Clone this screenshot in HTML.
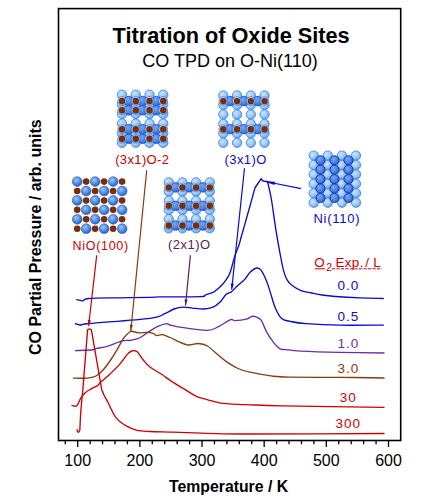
<!DOCTYPE html>
<html><head><meta charset="utf-8"><style>
html,body{margin:0;padding:0;background:#fff;}
svg{display:block;font-family:"Liberation Sans",sans-serif;}
</style></head><body>
<svg width="432" height="504" viewBox="0 0 432 504">
<defs>
<radialGradient id="gl" cx="0.38" cy="0.35" r="0.7"><stop offset="0" stop-color="#c8e6ff"/><stop offset="0.55" stop-color="#9ccaf8"/><stop offset="1" stop-color="#5c9cec"/></radialGradient>
<radialGradient id="gd" cx="0.38" cy="0.35" r="0.7"><stop offset="0" stop-color="#78aaf2"/><stop offset="0.55" stop-color="#4a86e4"/><stop offset="1" stop-color="#2a5ccc"/></radialGradient>
<radialGradient id="gn" cx="0.4" cy="0.35" r="0.65"><stop offset="0" stop-color="#9cc8f8"/><stop offset="0.6" stop-color="#4c8ce4"/><stop offset="1" stop-color="#2a5cc8"/></radialGradient>
</defs>
<rect x="58.5" y="8.6" width="342.2" height="431.9" fill="none" stroke="#000" stroke-width="1.6"/>
<line x1="65.27" y1="441" x2="65.27" y2="444.3" stroke="#000" stroke-width="1.3"/>
<line x1="77.70" y1="441" x2="77.70" y2="447.0" stroke="#000" stroke-width="1.3"/>
<line x1="90.13" y1="441" x2="90.13" y2="444.3" stroke="#000" stroke-width="1.3"/>
<line x1="102.56" y1="441" x2="102.56" y2="444.3" stroke="#000" stroke-width="1.3"/>
<line x1="115.00" y1="441" x2="115.00" y2="444.3" stroke="#000" stroke-width="1.3"/>
<line x1="127.43" y1="441" x2="127.43" y2="444.3" stroke="#000" stroke-width="1.3"/>
<line x1="139.86" y1="441" x2="139.86" y2="447.0" stroke="#000" stroke-width="1.3"/>
<line x1="152.29" y1="441" x2="152.29" y2="444.3" stroke="#000" stroke-width="1.3"/>
<line x1="164.72" y1="441" x2="164.72" y2="444.3" stroke="#000" stroke-width="1.3"/>
<line x1="177.16" y1="441" x2="177.16" y2="444.3" stroke="#000" stroke-width="1.3"/>
<line x1="189.59" y1="441" x2="189.59" y2="444.3" stroke="#000" stroke-width="1.3"/>
<line x1="202.02" y1="441" x2="202.02" y2="447.0" stroke="#000" stroke-width="1.3"/>
<line x1="214.45" y1="441" x2="214.45" y2="444.3" stroke="#000" stroke-width="1.3"/>
<line x1="226.88" y1="441" x2="226.88" y2="444.3" stroke="#000" stroke-width="1.3"/>
<line x1="239.32" y1="441" x2="239.32" y2="444.3" stroke="#000" stroke-width="1.3"/>
<line x1="251.75" y1="441" x2="251.75" y2="444.3" stroke="#000" stroke-width="1.3"/>
<line x1="264.18" y1="441" x2="264.18" y2="447.0" stroke="#000" stroke-width="1.3"/>
<line x1="276.61" y1="441" x2="276.61" y2="444.3" stroke="#000" stroke-width="1.3"/>
<line x1="289.04" y1="441" x2="289.04" y2="444.3" stroke="#000" stroke-width="1.3"/>
<line x1="301.48" y1="441" x2="301.48" y2="444.3" stroke="#000" stroke-width="1.3"/>
<line x1="313.91" y1="441" x2="313.91" y2="444.3" stroke="#000" stroke-width="1.3"/>
<line x1="326.34" y1="441" x2="326.34" y2="447.0" stroke="#000" stroke-width="1.3"/>
<line x1="338.77" y1="441" x2="338.77" y2="444.3" stroke="#000" stroke-width="1.3"/>
<line x1="351.20" y1="441" x2="351.20" y2="444.3" stroke="#000" stroke-width="1.3"/>
<line x1="363.64" y1="441" x2="363.64" y2="444.3" stroke="#000" stroke-width="1.3"/>
<line x1="376.07" y1="441" x2="376.07" y2="444.3" stroke="#000" stroke-width="1.3"/>
<line x1="388.50" y1="441" x2="388.50" y2="447.0" stroke="#000" stroke-width="1.3"/>
<text x="77.7" y="465.9" text-anchor="middle" font-size="16" fill="#000">100</text>
<text x="139.9" y="465.9" text-anchor="middle" font-size="16" fill="#000">200</text>
<text x="202.0" y="465.9" text-anchor="middle" font-size="16" fill="#000">300</text>
<text x="264.2" y="465.9" text-anchor="middle" font-size="16" fill="#000">400</text>
<text x="326.3" y="465.9" text-anchor="middle" font-size="16" fill="#000">500</text>
<text x="388.5" y="465.9" text-anchor="middle" font-size="16" fill="#000">600</text>
<path d="M76.2,299.7 C77.0,299.8 79.7,300.3 80.8,300.5 C81.9,300.7 81.6,301.1 83.0,300.8 C84.4,300.5 82.8,299.0 89.0,298.5 C95.2,298.0 109.8,298.0 120.0,297.8 C130.2,297.6 143.3,297.5 150.0,297.4 C156.7,297.2 151.7,297.0 160.0,296.9 C168.3,296.8 192.4,297.0 200.0,296.7 C207.6,296.4 203.4,295.5 205.6,294.8 C207.8,294.1 211.2,293.2 213.0,292.4 C214.8,291.6 215.1,291.0 216.3,290.0 C217.5,289.0 219.0,287.9 220.4,286.5 C221.8,285.1 223.4,283.6 225.0,281.4 C226.6,279.1 228.3,277.2 229.9,273.0 C231.5,268.8 233.2,261.0 234.7,256.4 C236.2,251.8 237.8,248.5 238.9,245.3 C240.0,242.1 240.4,239.7 241.2,237.0 C242.0,234.3 242.2,233.5 243.5,229.0 C244.8,224.5 246.8,217.0 248.8,210.2 C250.7,203.3 254.0,191.6 255.0,187.9 C256.0,186.3 260.2,180.2 261.2,178.6 C261.5,179.0 262.0,180.5 263.0,181.0 C264.0,181.5 266.8,181.4 267.5,181.5 C268.2,184.6 270.1,191.9 271.5,200.0 C272.9,208.1 274.3,220.2 275.9,229.8 C277.4,239.4 279.5,250.6 280.8,257.5 C282.1,264.4 282.8,267.8 283.8,271.4 C284.8,275.0 285.5,277.1 286.8,279.4 C288.1,281.7 289.3,283.4 291.8,285.3 C294.3,287.2 298.4,289.6 301.7,290.9 C305.0,292.2 308.2,292.3 311.6,293.0 C315.0,293.7 318.1,294.4 322.0,295.0 C325.9,295.6 328.8,296.0 335.2,296.5 C341.6,297.0 352.3,297.6 360.4,297.9 C368.5,298.2 379.9,298.4 383.8,298.5" fill="none" stroke="#0a0ad2" stroke-width="1.35" stroke-linejoin="round"/>
<path d="M75.0,323.5 C76.0,323.8 78.4,325.0 80.8,325.0 C83.2,325.0 77.7,324.6 89.2,323.5 C100.7,322.4 137.4,319.9 150.0,318.3 C162.6,316.7 160.8,315.2 164.8,313.7 C168.8,312.1 171.0,310.1 174.1,309.0 C177.2,307.9 180.2,307.3 183.3,307.2 C186.4,307.1 189.2,307.8 192.6,308.1 C196.0,308.4 200.3,309.1 203.7,309.0 C207.1,308.9 210.2,308.4 213.0,307.2 C215.8,306.0 218.2,303.8 220.4,301.7 C222.6,299.6 224.1,296.1 226.0,294.4 C227.9,292.7 229.8,293.1 231.6,291.7 C233.4,290.3 234.9,288.1 237.1,286.1 C239.2,284.1 242.3,281.9 244.5,279.6 C246.7,277.3 248.1,274.1 250.1,272.2 C252.1,270.3 254.8,268.3 256.6,268.0 C258.5,267.7 259.5,268.1 261.2,270.4 C262.9,272.6 265.2,277.8 266.7,281.5 C268.2,285.2 269.0,288.3 270.4,292.6 C271.8,296.9 273.2,303.1 275.1,307.4 C277.0,311.7 279.1,316.2 281.6,318.5 C284.1,320.8 285.8,320.4 289.9,321.3 C294.0,322.2 297.6,323.1 306.0,323.7 C314.4,324.3 327.0,325.0 340.0,325.2 C353.0,325.4 376.5,325.1 383.8,325.1" fill="none" stroke="#0a0ad2" stroke-width="1.35" stroke-linejoin="round"/>
<path d="M75.0,350.6 C77.7,350.5 87.8,350.3 91.2,350.0 C94.8,349.7 93.2,349.2 96.0,348.6 C98.8,348.0 103.5,347.5 107.9,346.2 C112.3,344.9 118.5,341.9 122.2,340.9 C125.9,339.9 127.2,340.8 130.0,340.3 C132.8,339.8 136.2,339.4 139.3,338.0 C142.4,336.6 145.4,333.8 148.5,331.9 C151.6,330.0 154.8,327.8 157.8,326.4 C160.8,325.0 164.6,323.8 166.6,323.6 C168.6,323.4 167.5,324.4 170.0,325.0 C172.5,325.6 175.3,326.5 181.5,327.4 C187.7,328.3 201.2,330.4 207.4,330.3 C213.6,330.2 214.6,328.4 218.5,326.6 C222.4,324.8 227.8,320.7 230.6,319.7 C233.4,318.7 232.6,320.7 235.2,320.6 C237.8,320.5 243.5,319.8 246.3,319.1 C249.1,318.4 250.4,316.8 251.9,316.4 C253.4,316.0 254.1,316.1 255.6,316.7 C257.1,317.3 259.2,317.5 261.1,320.1 C263.0,322.7 264.5,328.2 266.7,332.1 C268.9,336.0 271.9,340.4 274.1,343.2 C276.3,346.0 278.0,347.7 280.0,348.8 C282.0,349.9 282.6,349.2 286.0,349.6 C289.4,350.0 291.7,350.6 300.7,351.1 C309.7,351.6 326.0,352.1 340.0,352.4 C354.0,352.7 377.1,352.9 384.5,353.0" fill="none" stroke="#6a2ea6" stroke-width="1.35" stroke-linejoin="round"/>
<path d="M72.9,378.1 C75.2,378.1 83.2,378.5 87.0,378.1 C90.8,377.8 93.3,377.4 96.0,376.0 C98.7,374.6 100.7,372.6 103.1,370.0 C105.5,367.4 107.9,364.0 110.3,360.5 C112.7,357.0 115.4,352.6 117.4,349.2 C119.4,345.8 120.6,342.8 122.2,340.3 C123.8,337.8 125.5,335.9 127.0,334.3 C128.5,332.8 130.4,331.6 131.1,331.0 C132.5,331.3 136.7,332.7 139.3,332.9 C141.9,333.1 144.4,332.3 146.7,332.4 C149.0,332.5 151.4,332.8 153.1,333.3 C154.8,333.8 155.3,335.4 156.9,335.6 C158.5,335.8 160.2,334.4 162.4,334.7 C164.6,335.0 165.9,335.8 170.0,337.5 C174.1,339.2 182.3,343.8 187.0,344.8 C191.7,345.8 194.7,343.3 198.1,343.5 C201.5,343.7 204.0,344.0 207.4,346.0 C210.8,348.0 215.3,352.7 218.5,355.3 C221.7,357.9 223.2,359.4 226.4,361.6 C229.7,363.8 234.1,366.7 238.0,368.5 C241.9,370.3 244.5,371.0 250.0,372.2 C255.5,373.4 264.6,375.1 271.1,375.9 C277.6,376.7 277.4,376.9 288.9,377.2 C300.4,377.4 324.1,377.3 340.0,377.4 C355.9,377.5 377.1,377.9 384.5,378.0" fill="none" stroke="#8a3a0c" stroke-width="1.35" stroke-linejoin="round"/>
<path d="M71.5,405.4 C72.4,405.5 75.2,407.0 76.7,405.8 C78.2,404.6 79.4,400.2 80.8,398.1 C82.2,396.0 83.3,394.5 85.0,392.9 C86.7,391.3 89.2,390.0 91.2,388.8 C93.3,387.5 95.9,386.7 97.5,385.6 C99.1,384.5 99.1,383.6 100.8,382.0 C102.5,380.4 104.7,379.0 107.9,376.0 C111.1,373.0 116.6,367.7 119.8,364.1 C123.0,360.5 125.0,356.8 127.0,354.6 C129.0,352.4 130.2,351.6 131.7,351.0 C133.2,350.4 134.9,350.7 136.0,351.0 C137.1,351.3 136.9,351.2 138.1,352.7 C139.3,354.2 141.3,357.6 143.3,360.0 C145.3,362.4 146.9,364.6 150.0,367.0 C153.1,369.4 157.8,371.7 161.6,374.3 C165.4,376.9 169.2,379.9 173.1,382.4 C176.9,384.9 180.8,387.1 184.7,389.4 C188.6,391.7 192.4,394.6 196.3,396.3 C200.2,398.0 204.1,398.7 207.9,399.8 C211.8,400.9 214.4,402.0 219.4,402.8 C224.4,403.6 232.9,404.1 238.0,404.4 C243.1,404.7 242.6,404.6 250.0,404.8 C257.4,405.0 260.0,405.4 282.4,405.8 C304.8,406.2 367.5,407.1 384.5,407.4" fill="none" stroke="#d00000" stroke-width="1.35" stroke-linejoin="round"/>
<path d="M76.7,429.4 C77.0,429.9 78.0,432.0 78.3,432.5 C78.5,432.1 79.5,430.8 79.8,430.4 C80.0,427.3 80.3,418.4 80.8,411.7 C81.3,405.0 82.5,393.6 82.8,390.0 C83.6,380.0 86.8,339.8 87.6,329.8 C87.9,329.6 88.9,328.8 89.5,328.8 C90.1,328.8 91.1,329.6 91.4,329.8 C93.1,339.8 100.1,380.0 101.8,390.0 C102.2,390.8 103.0,392.9 104.0,395.0 C105.0,397.1 105.9,398.5 107.9,402.3 C109.9,406.1 113.1,413.9 116.2,417.9 C119.4,421.9 123.2,424.2 126.7,426.2 C130.2,428.3 133.2,429.5 137.1,430.4 C141.0,431.3 144.0,431.2 150.0,431.5 C156.0,431.8 163.4,431.9 173.1,432.2 C182.8,432.5 195.1,433.0 207.9,433.3 C220.7,433.6 220.6,434.0 250.0,434.0 C279.4,434.0 362.1,433.6 384.5,433.5" fill="none" stroke="#d00000" stroke-width="1.35" stroke-linejoin="round"/>
<line x1="96.7" y1="255.4" x2="88.6" y2="326" stroke="#d00000" stroke-width="1.2"/>
<polygon points="88.60,326.00 87.69,319.86 90.87,320.22" fill="#d00000"/>
<line x1="146.7" y1="170.2" x2="130.8" y2="330.8" stroke="#8a3a0c" stroke-width="1.2"/>
<polygon points="130.80,330.80 129.80,324.67 132.98,324.99" fill="#8a3a0c"/>
<line x1="190.4" y1="255.2" x2="185.5" y2="305.5" stroke="#5a1e55" stroke-width="1.2"/>
<polygon points="185.50,305.50 184.49,299.37 187.67,299.68" fill="#5a1e55"/>
<line x1="244.5" y1="168.3" x2="231.7" y2="289.6" stroke="#0a0ad2" stroke-width="1.2"/>
<polygon points="231.70,289.60 230.74,283.47 233.92,283.80" fill="#0a0ad2"/>
<line x1="301" y1="188.7" x2="263" y2="181" stroke="#0a0ad2" stroke-width="1.2"/>
<polygon points="263.00,181.00 275.08,181.82 274.44,184.95" fill="#0a0ad2"/>
<circle cx="77.20" cy="181.60" r="4.9" fill="url(#gn)" stroke="#2a5ac8" stroke-width="0.6"/>
<circle cx="86.18" cy="181.60" r="3.3" fill="#7d2d06"/>
<circle cx="95.16" cy="181.60" r="4.9" fill="url(#gn)" stroke="#2a5ac8" stroke-width="0.6"/>
<circle cx="104.14" cy="181.60" r="3.3" fill="#7d2d06"/>
<circle cx="113.12" cy="181.60" r="4.9" fill="url(#gn)" stroke="#2a5ac8" stroke-width="0.6"/>
<circle cx="122.10" cy="181.60" r="3.3" fill="#7d2d06"/>
<circle cx="77.20" cy="191.02" r="3.3" fill="#7d2d06"/>
<circle cx="86.18" cy="191.02" r="4.9" fill="url(#gn)" stroke="#2a5ac8" stroke-width="0.6"/>
<circle cx="95.16" cy="191.02" r="3.3" fill="#7d2d06"/>
<circle cx="104.14" cy="191.02" r="4.9" fill="url(#gn)" stroke="#2a5ac8" stroke-width="0.6"/>
<circle cx="113.12" cy="191.02" r="3.3" fill="#7d2d06"/>
<circle cx="122.10" cy="191.02" r="4.9" fill="url(#gn)" stroke="#2a5ac8" stroke-width="0.6"/>
<circle cx="77.20" cy="200.44" r="4.9" fill="url(#gn)" stroke="#2a5ac8" stroke-width="0.6"/>
<circle cx="86.18" cy="200.44" r="3.3" fill="#7d2d06"/>
<circle cx="95.16" cy="200.44" r="4.9" fill="url(#gn)" stroke="#2a5ac8" stroke-width="0.6"/>
<circle cx="104.14" cy="200.44" r="3.3" fill="#7d2d06"/>
<circle cx="113.12" cy="200.44" r="4.9" fill="url(#gn)" stroke="#2a5ac8" stroke-width="0.6"/>
<circle cx="122.10" cy="200.44" r="3.3" fill="#7d2d06"/>
<circle cx="77.20" cy="209.86" r="3.3" fill="#7d2d06"/>
<circle cx="86.18" cy="209.86" r="4.9" fill="url(#gn)" stroke="#2a5ac8" stroke-width="0.6"/>
<circle cx="95.16" cy="209.86" r="3.3" fill="#7d2d06"/>
<circle cx="104.14" cy="209.86" r="4.9" fill="url(#gn)" stroke="#2a5ac8" stroke-width="0.6"/>
<circle cx="113.12" cy="209.86" r="3.3" fill="#7d2d06"/>
<circle cx="122.10" cy="209.86" r="4.9" fill="url(#gn)" stroke="#2a5ac8" stroke-width="0.6"/>
<circle cx="77.20" cy="219.28" r="4.9" fill="url(#gn)" stroke="#2a5ac8" stroke-width="0.6"/>
<circle cx="86.18" cy="219.28" r="3.3" fill="#7d2d06"/>
<circle cx="95.16" cy="219.28" r="4.9" fill="url(#gn)" stroke="#2a5ac8" stroke-width="0.6"/>
<circle cx="104.14" cy="219.28" r="3.3" fill="#7d2d06"/>
<circle cx="113.12" cy="219.28" r="4.9" fill="url(#gn)" stroke="#2a5ac8" stroke-width="0.6"/>
<circle cx="122.10" cy="219.28" r="3.3" fill="#7d2d06"/>
<circle cx="77.20" cy="228.70" r="3.3" fill="#7d2d06"/>
<circle cx="86.18" cy="228.70" r="4.9" fill="url(#gn)" stroke="#2a5ac8" stroke-width="0.6"/>
<circle cx="95.16" cy="228.70" r="3.3" fill="#7d2d06"/>
<circle cx="104.14" cy="228.70" r="4.9" fill="url(#gn)" stroke="#2a5ac8" stroke-width="0.6"/>
<circle cx="113.12" cy="228.70" r="3.3" fill="#7d2d06"/>
<circle cx="122.10" cy="228.70" r="4.9" fill="url(#gn)" stroke="#2a5ac8" stroke-width="0.6"/>
<circle cx="122.00" cy="94.70" r="4.7" fill="url(#gl)" stroke="#3f80e4" stroke-width="0.8"/>
<circle cx="122.00" cy="104.32" r="4.7" fill="url(#gl)" stroke="#3f80e4" stroke-width="0.8"/>
<circle cx="122.00" cy="113.94" r="4.7" fill="url(#gl)" stroke="#3f80e4" stroke-width="0.8"/>
<circle cx="122.00" cy="123.56" r="4.7" fill="url(#gl)" stroke="#3f80e4" stroke-width="0.8"/>
<circle cx="122.00" cy="133.18" r="4.7" fill="url(#gl)" stroke="#3f80e4" stroke-width="0.8"/>
<circle cx="122.00" cy="142.80" r="4.7" fill="url(#gl)" stroke="#3f80e4" stroke-width="0.8"/>
<circle cx="135.75" cy="94.70" r="4.7" fill="url(#gl)" stroke="#3f80e4" stroke-width="0.8"/>
<circle cx="135.75" cy="104.32" r="4.7" fill="url(#gl)" stroke="#3f80e4" stroke-width="0.8"/>
<circle cx="135.75" cy="113.94" r="4.7" fill="url(#gl)" stroke="#3f80e4" stroke-width="0.8"/>
<circle cx="135.75" cy="123.56" r="4.7" fill="url(#gl)" stroke="#3f80e4" stroke-width="0.8"/>
<circle cx="135.75" cy="133.18" r="4.7" fill="url(#gl)" stroke="#3f80e4" stroke-width="0.8"/>
<circle cx="135.75" cy="142.80" r="4.7" fill="url(#gl)" stroke="#3f80e4" stroke-width="0.8"/>
<circle cx="149.50" cy="94.70" r="4.7" fill="url(#gl)" stroke="#3f80e4" stroke-width="0.8"/>
<circle cx="149.50" cy="104.32" r="4.7" fill="url(#gl)" stroke="#3f80e4" stroke-width="0.8"/>
<circle cx="149.50" cy="113.94" r="4.7" fill="url(#gl)" stroke="#3f80e4" stroke-width="0.8"/>
<circle cx="149.50" cy="123.56" r="4.7" fill="url(#gl)" stroke="#3f80e4" stroke-width="0.8"/>
<circle cx="149.50" cy="133.18" r="4.7" fill="url(#gl)" stroke="#3f80e4" stroke-width="0.8"/>
<circle cx="149.50" cy="142.80" r="4.7" fill="url(#gl)" stroke="#3f80e4" stroke-width="0.8"/>
<circle cx="163.25" cy="94.70" r="4.7" fill="url(#gl)" stroke="#3f80e4" stroke-width="0.8"/>
<circle cx="163.25" cy="104.32" r="4.7" fill="url(#gl)" stroke="#3f80e4" stroke-width="0.8"/>
<circle cx="163.25" cy="113.94" r="4.7" fill="url(#gl)" stroke="#3f80e4" stroke-width="0.8"/>
<circle cx="163.25" cy="123.56" r="4.7" fill="url(#gl)" stroke="#3f80e4" stroke-width="0.8"/>
<circle cx="163.25" cy="133.18" r="4.7" fill="url(#gl)" stroke="#3f80e4" stroke-width="0.8"/>
<circle cx="163.25" cy="142.80" r="4.7" fill="url(#gl)" stroke="#3f80e4" stroke-width="0.8"/>
<circle cx="128.88" cy="101.00" r="4.8" fill="url(#gd)" stroke="#2a4cc0" stroke-width="0.8"/>
<circle cx="142.62" cy="101.00" r="4.8" fill="url(#gd)" stroke="#2a4cc0" stroke-width="0.8"/>
<circle cx="156.38" cy="101.00" r="4.8" fill="url(#gd)" stroke="#2a4cc0" stroke-width="0.8"/>
<circle cx="128.88" cy="110.30" r="4.8" fill="url(#gd)" stroke="#2a4cc0" stroke-width="0.8"/>
<circle cx="142.62" cy="110.30" r="4.8" fill="url(#gd)" stroke="#2a4cc0" stroke-width="0.8"/>
<circle cx="156.38" cy="110.30" r="4.8" fill="url(#gd)" stroke="#2a4cc0" stroke-width="0.8"/>
<circle cx="128.88" cy="129.20" r="4.8" fill="url(#gd)" stroke="#2a4cc0" stroke-width="0.8"/>
<circle cx="142.62" cy="129.20" r="4.8" fill="url(#gd)" stroke="#2a4cc0" stroke-width="0.8"/>
<circle cx="156.38" cy="129.20" r="4.8" fill="url(#gd)" stroke="#2a4cc0" stroke-width="0.8"/>
<circle cx="128.88" cy="138.80" r="4.8" fill="url(#gd)" stroke="#2a4cc0" stroke-width="0.8"/>
<circle cx="142.62" cy="138.80" r="4.8" fill="url(#gd)" stroke="#2a4cc0" stroke-width="0.8"/>
<circle cx="156.38" cy="138.80" r="4.8" fill="url(#gd)" stroke="#2a4cc0" stroke-width="0.8"/>
<circle cx="122.00" cy="101.00" r="4.4" fill="url(#gl)" stroke="#3f80e4" stroke-width="0.6"/>
<circle cx="122.00" cy="101.00" r="3.2" fill="#7d2d06"/>
<circle cx="135.75" cy="101.00" r="4.4" fill="url(#gl)" stroke="#3f80e4" stroke-width="0.6"/>
<circle cx="135.75" cy="101.00" r="3.2" fill="#7d2d06"/>
<circle cx="149.50" cy="101.00" r="4.4" fill="url(#gl)" stroke="#3f80e4" stroke-width="0.6"/>
<circle cx="149.50" cy="101.00" r="3.2" fill="#7d2d06"/>
<circle cx="163.25" cy="101.00" r="4.4" fill="url(#gl)" stroke="#3f80e4" stroke-width="0.6"/>
<circle cx="163.25" cy="101.00" r="3.2" fill="#7d2d06"/>
<circle cx="122.00" cy="110.30" r="4.4" fill="url(#gl)" stroke="#3f80e4" stroke-width="0.6"/>
<circle cx="122.00" cy="110.30" r="3.2" fill="#7d2d06"/>
<circle cx="135.75" cy="110.30" r="4.4" fill="url(#gl)" stroke="#3f80e4" stroke-width="0.6"/>
<circle cx="135.75" cy="110.30" r="3.2" fill="#7d2d06"/>
<circle cx="149.50" cy="110.30" r="4.4" fill="url(#gl)" stroke="#3f80e4" stroke-width="0.6"/>
<circle cx="149.50" cy="110.30" r="3.2" fill="#7d2d06"/>
<circle cx="163.25" cy="110.30" r="4.4" fill="url(#gl)" stroke="#3f80e4" stroke-width="0.6"/>
<circle cx="163.25" cy="110.30" r="3.2" fill="#7d2d06"/>
<circle cx="122.00" cy="129.20" r="4.4" fill="url(#gl)" stroke="#3f80e4" stroke-width="0.6"/>
<circle cx="122.00" cy="129.20" r="3.2" fill="#7d2d06"/>
<circle cx="135.75" cy="129.20" r="4.4" fill="url(#gl)" stroke="#3f80e4" stroke-width="0.6"/>
<circle cx="135.75" cy="129.20" r="3.2" fill="#7d2d06"/>
<circle cx="149.50" cy="129.20" r="4.4" fill="url(#gl)" stroke="#3f80e4" stroke-width="0.6"/>
<circle cx="149.50" cy="129.20" r="3.2" fill="#7d2d06"/>
<circle cx="163.25" cy="129.20" r="4.4" fill="url(#gl)" stroke="#3f80e4" stroke-width="0.6"/>
<circle cx="163.25" cy="129.20" r="3.2" fill="#7d2d06"/>
<circle cx="122.00" cy="138.80" r="4.4" fill="url(#gl)" stroke="#3f80e4" stroke-width="0.6"/>
<circle cx="122.00" cy="138.80" r="3.2" fill="#7d2d06"/>
<circle cx="135.75" cy="138.80" r="4.4" fill="url(#gl)" stroke="#3f80e4" stroke-width="0.6"/>
<circle cx="135.75" cy="138.80" r="3.2" fill="#7d2d06"/>
<circle cx="149.50" cy="138.80" r="4.4" fill="url(#gl)" stroke="#3f80e4" stroke-width="0.6"/>
<circle cx="149.50" cy="138.80" r="3.2" fill="#7d2d06"/>
<circle cx="163.25" cy="138.80" r="4.4" fill="url(#gl)" stroke="#3f80e4" stroke-width="0.6"/>
<circle cx="163.25" cy="138.80" r="3.2" fill="#7d2d06"/>
<circle cx="168.80" cy="182.40" r="4.7" fill="url(#gl)" stroke="#3f80e4" stroke-width="0.8"/>
<circle cx="168.80" cy="191.58" r="4.7" fill="url(#gl)" stroke="#3f80e4" stroke-width="0.8"/>
<circle cx="168.80" cy="200.76" r="4.7" fill="url(#gl)" stroke="#3f80e4" stroke-width="0.8"/>
<circle cx="168.80" cy="209.94" r="4.7" fill="url(#gl)" stroke="#3f80e4" stroke-width="0.8"/>
<circle cx="168.80" cy="219.12" r="4.7" fill="url(#gl)" stroke="#3f80e4" stroke-width="0.8"/>
<circle cx="168.80" cy="228.30" r="4.7" fill="url(#gl)" stroke="#3f80e4" stroke-width="0.8"/>
<circle cx="182.45" cy="182.40" r="4.7" fill="url(#gl)" stroke="#3f80e4" stroke-width="0.8"/>
<circle cx="182.45" cy="191.58" r="4.7" fill="url(#gl)" stroke="#3f80e4" stroke-width="0.8"/>
<circle cx="182.45" cy="200.76" r="4.7" fill="url(#gl)" stroke="#3f80e4" stroke-width="0.8"/>
<circle cx="182.45" cy="209.94" r="4.7" fill="url(#gl)" stroke="#3f80e4" stroke-width="0.8"/>
<circle cx="182.45" cy="219.12" r="4.7" fill="url(#gl)" stroke="#3f80e4" stroke-width="0.8"/>
<circle cx="182.45" cy="228.30" r="4.7" fill="url(#gl)" stroke="#3f80e4" stroke-width="0.8"/>
<circle cx="196.10" cy="182.40" r="4.7" fill="url(#gl)" stroke="#3f80e4" stroke-width="0.8"/>
<circle cx="196.10" cy="191.58" r="4.7" fill="url(#gl)" stroke="#3f80e4" stroke-width="0.8"/>
<circle cx="196.10" cy="200.76" r="4.7" fill="url(#gl)" stroke="#3f80e4" stroke-width="0.8"/>
<circle cx="196.10" cy="209.94" r="4.7" fill="url(#gl)" stroke="#3f80e4" stroke-width="0.8"/>
<circle cx="196.10" cy="219.12" r="4.7" fill="url(#gl)" stroke="#3f80e4" stroke-width="0.8"/>
<circle cx="196.10" cy="228.30" r="4.7" fill="url(#gl)" stroke="#3f80e4" stroke-width="0.8"/>
<circle cx="209.75" cy="182.40" r="4.7" fill="url(#gl)" stroke="#3f80e4" stroke-width="0.8"/>
<circle cx="209.75" cy="191.58" r="4.7" fill="url(#gl)" stroke="#3f80e4" stroke-width="0.8"/>
<circle cx="209.75" cy="200.76" r="4.7" fill="url(#gl)" stroke="#3f80e4" stroke-width="0.8"/>
<circle cx="209.75" cy="209.94" r="4.7" fill="url(#gl)" stroke="#3f80e4" stroke-width="0.8"/>
<circle cx="209.75" cy="219.12" r="4.7" fill="url(#gl)" stroke="#3f80e4" stroke-width="0.8"/>
<circle cx="209.75" cy="228.30" r="4.7" fill="url(#gl)" stroke="#3f80e4" stroke-width="0.8"/>
<circle cx="175.62" cy="187.40" r="4.8" fill="url(#gd)" stroke="#2a4cc0" stroke-width="0.8"/>
<circle cx="189.28" cy="187.40" r="4.8" fill="url(#gd)" stroke="#2a4cc0" stroke-width="0.8"/>
<circle cx="202.93" cy="187.40" r="4.8" fill="url(#gd)" stroke="#2a4cc0" stroke-width="0.8"/>
<circle cx="175.62" cy="205.80" r="4.8" fill="url(#gd)" stroke="#2a4cc0" stroke-width="0.8"/>
<circle cx="189.28" cy="205.80" r="4.8" fill="url(#gd)" stroke="#2a4cc0" stroke-width="0.8"/>
<circle cx="202.93" cy="205.80" r="4.8" fill="url(#gd)" stroke="#2a4cc0" stroke-width="0.8"/>
<circle cx="175.62" cy="225.50" r="4.8" fill="url(#gd)" stroke="#2a4cc0" stroke-width="0.8"/>
<circle cx="189.28" cy="225.50" r="4.8" fill="url(#gd)" stroke="#2a4cc0" stroke-width="0.8"/>
<circle cx="202.93" cy="225.50" r="4.8" fill="url(#gd)" stroke="#2a4cc0" stroke-width="0.8"/>
<circle cx="168.80" cy="187.40" r="4.4" fill="url(#gl)" stroke="#3f80e4" stroke-width="0.6"/>
<circle cx="168.80" cy="187.40" r="3.2" fill="#7d2d06"/>
<circle cx="182.45" cy="187.40" r="4.4" fill="url(#gl)" stroke="#3f80e4" stroke-width="0.6"/>
<circle cx="182.45" cy="187.40" r="3.2" fill="#7d2d06"/>
<circle cx="196.10" cy="187.40" r="4.4" fill="url(#gl)" stroke="#3f80e4" stroke-width="0.6"/>
<circle cx="196.10" cy="187.40" r="3.2" fill="#7d2d06"/>
<circle cx="209.75" cy="187.40" r="4.4" fill="url(#gl)" stroke="#3f80e4" stroke-width="0.6"/>
<circle cx="209.75" cy="187.40" r="3.2" fill="#7d2d06"/>
<circle cx="168.80" cy="205.80" r="4.4" fill="url(#gl)" stroke="#3f80e4" stroke-width="0.6"/>
<circle cx="168.80" cy="205.80" r="3.2" fill="#7d2d06"/>
<circle cx="182.45" cy="205.80" r="4.4" fill="url(#gl)" stroke="#3f80e4" stroke-width="0.6"/>
<circle cx="182.45" cy="205.80" r="3.2" fill="#7d2d06"/>
<circle cx="196.10" cy="205.80" r="4.4" fill="url(#gl)" stroke="#3f80e4" stroke-width="0.6"/>
<circle cx="196.10" cy="205.80" r="3.2" fill="#7d2d06"/>
<circle cx="209.75" cy="205.80" r="4.4" fill="url(#gl)" stroke="#3f80e4" stroke-width="0.6"/>
<circle cx="209.75" cy="205.80" r="3.2" fill="#7d2d06"/>
<circle cx="168.80" cy="225.50" r="4.4" fill="url(#gl)" stroke="#3f80e4" stroke-width="0.6"/>
<circle cx="168.80" cy="225.50" r="3.2" fill="#7d2d06"/>
<circle cx="182.45" cy="225.50" r="4.4" fill="url(#gl)" stroke="#3f80e4" stroke-width="0.6"/>
<circle cx="182.45" cy="225.50" r="3.2" fill="#7d2d06"/>
<circle cx="196.10" cy="225.50" r="4.4" fill="url(#gl)" stroke="#3f80e4" stroke-width="0.6"/>
<circle cx="196.10" cy="225.50" r="3.2" fill="#7d2d06"/>
<circle cx="209.75" cy="225.50" r="4.4" fill="url(#gl)" stroke="#3f80e4" stroke-width="0.6"/>
<circle cx="209.75" cy="225.50" r="3.2" fill="#7d2d06"/>
<circle cx="223.30" cy="95.50" r="4.7" fill="url(#gl)" stroke="#3f80e4" stroke-width="0.8"/>
<circle cx="223.30" cy="104.96" r="4.7" fill="url(#gl)" stroke="#3f80e4" stroke-width="0.8"/>
<circle cx="223.30" cy="114.42" r="4.7" fill="url(#gl)" stroke="#3f80e4" stroke-width="0.8"/>
<circle cx="223.30" cy="123.88" r="4.7" fill="url(#gl)" stroke="#3f80e4" stroke-width="0.8"/>
<circle cx="223.30" cy="133.34" r="4.7" fill="url(#gl)" stroke="#3f80e4" stroke-width="0.8"/>
<circle cx="223.30" cy="142.80" r="4.7" fill="url(#gl)" stroke="#3f80e4" stroke-width="0.8"/>
<circle cx="237.05" cy="95.50" r="4.7" fill="url(#gl)" stroke="#3f80e4" stroke-width="0.8"/>
<circle cx="237.05" cy="104.96" r="4.7" fill="url(#gl)" stroke="#3f80e4" stroke-width="0.8"/>
<circle cx="237.05" cy="114.42" r="4.7" fill="url(#gl)" stroke="#3f80e4" stroke-width="0.8"/>
<circle cx="237.05" cy="123.88" r="4.7" fill="url(#gl)" stroke="#3f80e4" stroke-width="0.8"/>
<circle cx="237.05" cy="133.34" r="4.7" fill="url(#gl)" stroke="#3f80e4" stroke-width="0.8"/>
<circle cx="237.05" cy="142.80" r="4.7" fill="url(#gl)" stroke="#3f80e4" stroke-width="0.8"/>
<circle cx="250.80" cy="95.50" r="4.7" fill="url(#gl)" stroke="#3f80e4" stroke-width="0.8"/>
<circle cx="250.80" cy="104.96" r="4.7" fill="url(#gl)" stroke="#3f80e4" stroke-width="0.8"/>
<circle cx="250.80" cy="114.42" r="4.7" fill="url(#gl)" stroke="#3f80e4" stroke-width="0.8"/>
<circle cx="250.80" cy="123.88" r="4.7" fill="url(#gl)" stroke="#3f80e4" stroke-width="0.8"/>
<circle cx="250.80" cy="133.34" r="4.7" fill="url(#gl)" stroke="#3f80e4" stroke-width="0.8"/>
<circle cx="250.80" cy="142.80" r="4.7" fill="url(#gl)" stroke="#3f80e4" stroke-width="0.8"/>
<circle cx="264.55" cy="95.50" r="4.7" fill="url(#gl)" stroke="#3f80e4" stroke-width="0.8"/>
<circle cx="264.55" cy="104.96" r="4.7" fill="url(#gl)" stroke="#3f80e4" stroke-width="0.8"/>
<circle cx="264.55" cy="114.42" r="4.7" fill="url(#gl)" stroke="#3f80e4" stroke-width="0.8"/>
<circle cx="264.55" cy="123.88" r="4.7" fill="url(#gl)" stroke="#3f80e4" stroke-width="0.8"/>
<circle cx="264.55" cy="133.34" r="4.7" fill="url(#gl)" stroke="#3f80e4" stroke-width="0.8"/>
<circle cx="264.55" cy="142.80" r="4.7" fill="url(#gl)" stroke="#3f80e4" stroke-width="0.8"/>
<circle cx="230.18" cy="101.10" r="4.8" fill="url(#gd)" stroke="#2a4cc0" stroke-width="0.8"/>
<circle cx="243.93" cy="101.10" r="4.8" fill="url(#gd)" stroke="#2a4cc0" stroke-width="0.8"/>
<circle cx="257.68" cy="101.10" r="4.8" fill="url(#gd)" stroke="#2a4cc0" stroke-width="0.8"/>
<circle cx="230.18" cy="129.20" r="4.8" fill="url(#gd)" stroke="#2a4cc0" stroke-width="0.8"/>
<circle cx="243.93" cy="129.20" r="4.8" fill="url(#gd)" stroke="#2a4cc0" stroke-width="0.8"/>
<circle cx="257.68" cy="129.20" r="4.8" fill="url(#gd)" stroke="#2a4cc0" stroke-width="0.8"/>
<circle cx="223.30" cy="101.10" r="4.4" fill="url(#gl)" stroke="#3f80e4" stroke-width="0.6"/>
<circle cx="223.30" cy="101.10" r="3.2" fill="#7d2d06"/>
<circle cx="237.05" cy="101.10" r="4.4" fill="url(#gl)" stroke="#3f80e4" stroke-width="0.6"/>
<circle cx="237.05" cy="101.10" r="3.2" fill="#7d2d06"/>
<circle cx="250.80" cy="101.10" r="4.4" fill="url(#gl)" stroke="#3f80e4" stroke-width="0.6"/>
<circle cx="250.80" cy="101.10" r="3.2" fill="#7d2d06"/>
<circle cx="264.55" cy="101.10" r="4.4" fill="url(#gl)" stroke="#3f80e4" stroke-width="0.6"/>
<circle cx="264.55" cy="101.10" r="3.2" fill="#7d2d06"/>
<circle cx="223.30" cy="129.20" r="4.4" fill="url(#gl)" stroke="#3f80e4" stroke-width="0.6"/>
<circle cx="223.30" cy="129.20" r="3.2" fill="#7d2d06"/>
<circle cx="237.05" cy="129.20" r="4.4" fill="url(#gl)" stroke="#3f80e4" stroke-width="0.6"/>
<circle cx="237.05" cy="129.20" r="3.2" fill="#7d2d06"/>
<circle cx="250.80" cy="129.20" r="4.4" fill="url(#gl)" stroke="#3f80e4" stroke-width="0.6"/>
<circle cx="250.80" cy="129.20" r="3.2" fill="#7d2d06"/>
<circle cx="264.55" cy="129.20" r="4.4" fill="url(#gl)" stroke="#3f80e4" stroke-width="0.6"/>
<circle cx="264.55" cy="129.20" r="3.2" fill="#7d2d06"/>
<circle cx="313.70" cy="155.60" r="4.7" fill="url(#gl)" stroke="#3f80e4" stroke-width="0.8"/>
<circle cx="313.70" cy="165.02" r="4.7" fill="url(#gl)" stroke="#3f80e4" stroke-width="0.8"/>
<circle cx="313.70" cy="174.44" r="4.7" fill="url(#gl)" stroke="#3f80e4" stroke-width="0.8"/>
<circle cx="313.70" cy="183.86" r="4.7" fill="url(#gl)" stroke="#3f80e4" stroke-width="0.8"/>
<circle cx="313.70" cy="193.28" r="4.7" fill="url(#gl)" stroke="#3f80e4" stroke-width="0.8"/>
<circle cx="313.70" cy="202.70" r="4.7" fill="url(#gl)" stroke="#3f80e4" stroke-width="0.8"/>
<circle cx="327.80" cy="155.60" r="4.7" fill="url(#gl)" stroke="#3f80e4" stroke-width="0.8"/>
<circle cx="327.80" cy="165.02" r="4.7" fill="url(#gl)" stroke="#3f80e4" stroke-width="0.8"/>
<circle cx="327.80" cy="174.44" r="4.7" fill="url(#gl)" stroke="#3f80e4" stroke-width="0.8"/>
<circle cx="327.80" cy="183.86" r="4.7" fill="url(#gl)" stroke="#3f80e4" stroke-width="0.8"/>
<circle cx="327.80" cy="193.28" r="4.7" fill="url(#gl)" stroke="#3f80e4" stroke-width="0.8"/>
<circle cx="327.80" cy="202.70" r="4.7" fill="url(#gl)" stroke="#3f80e4" stroke-width="0.8"/>
<circle cx="341.90" cy="155.60" r="4.7" fill="url(#gl)" stroke="#3f80e4" stroke-width="0.8"/>
<circle cx="341.90" cy="165.02" r="4.7" fill="url(#gl)" stroke="#3f80e4" stroke-width="0.8"/>
<circle cx="341.90" cy="174.44" r="4.7" fill="url(#gl)" stroke="#3f80e4" stroke-width="0.8"/>
<circle cx="341.90" cy="183.86" r="4.7" fill="url(#gl)" stroke="#3f80e4" stroke-width="0.8"/>
<circle cx="341.90" cy="193.28" r="4.7" fill="url(#gl)" stroke="#3f80e4" stroke-width="0.8"/>
<circle cx="341.90" cy="202.70" r="4.7" fill="url(#gl)" stroke="#3f80e4" stroke-width="0.8"/>
<circle cx="356.00" cy="155.60" r="4.7" fill="url(#gl)" stroke="#3f80e4" stroke-width="0.8"/>
<circle cx="356.00" cy="165.02" r="4.7" fill="url(#gl)" stroke="#3f80e4" stroke-width="0.8"/>
<circle cx="356.00" cy="174.44" r="4.7" fill="url(#gl)" stroke="#3f80e4" stroke-width="0.8"/>
<circle cx="356.00" cy="183.86" r="4.7" fill="url(#gl)" stroke="#3f80e4" stroke-width="0.8"/>
<circle cx="356.00" cy="193.28" r="4.7" fill="url(#gl)" stroke="#3f80e4" stroke-width="0.8"/>
<circle cx="356.00" cy="202.70" r="4.7" fill="url(#gl)" stroke="#3f80e4" stroke-width="0.8"/>
<circle cx="320.50" cy="160.30" r="4.6" fill="url(#gd)" stroke="#1a2aa8" stroke-width="0.9"/>
<circle cx="320.50" cy="169.72" r="4.6" fill="url(#gd)" stroke="#1a2aa8" stroke-width="0.9"/>
<circle cx="320.50" cy="179.14" r="4.6" fill="url(#gd)" stroke="#1a2aa8" stroke-width="0.9"/>
<circle cx="320.50" cy="188.56" r="4.6" fill="url(#gd)" stroke="#1a2aa8" stroke-width="0.9"/>
<circle cx="320.50" cy="197.98" r="4.6" fill="url(#gd)" stroke="#1a2aa8" stroke-width="0.9"/>
<circle cx="334.50" cy="160.30" r="4.6" fill="url(#gd)" stroke="#1a2aa8" stroke-width="0.9"/>
<circle cx="334.50" cy="169.72" r="4.6" fill="url(#gd)" stroke="#1a2aa8" stroke-width="0.9"/>
<circle cx="334.50" cy="179.14" r="4.6" fill="url(#gd)" stroke="#1a2aa8" stroke-width="0.9"/>
<circle cx="334.50" cy="188.56" r="4.6" fill="url(#gd)" stroke="#1a2aa8" stroke-width="0.9"/>
<circle cx="334.50" cy="197.98" r="4.6" fill="url(#gd)" stroke="#1a2aa8" stroke-width="0.9"/>
<circle cx="348.50" cy="160.30" r="4.6" fill="url(#gd)" stroke="#1a2aa8" stroke-width="0.9"/>
<circle cx="348.50" cy="169.72" r="4.6" fill="url(#gd)" stroke="#1a2aa8" stroke-width="0.9"/>
<circle cx="348.50" cy="179.14" r="4.6" fill="url(#gd)" stroke="#1a2aa8" stroke-width="0.9"/>
<circle cx="348.50" cy="188.56" r="4.6" fill="url(#gd)" stroke="#1a2aa8" stroke-width="0.9"/>
<circle cx="348.50" cy="197.98" r="4.6" fill="url(#gd)" stroke="#1a2aa8" stroke-width="0.9"/>
<text x="112.6" y="42.6" font-size="21.7" fill="#000" font-weight="bold" >Titration of Oxide Sites</text>
<text x="142.3" y="66.6" font-size="18.0" fill="#000" font-weight="normal" >CO TPD on O-Ni(110)</text>
<text x="169" y="492.2" font-size="15.8" fill="#000" font-weight="bold" >Temperature / K</text>
<text transform="translate(40.9,355) rotate(-90)" font-size="16" font-weight="bold" fill="#000">CO Partial Pressure / arb. units</text>
<text x="72.5" y="249.9" font-size="12.5" fill="#d00000" font-weight="normal" letter-spacing="0.7">NiO(100)</text>
<text x="115.2" y="163.9" font-size="13" fill="#d00000" font-weight="normal" letter-spacing="0.35">(3x1)O-2</text>
<text x="168.0" y="248.8" font-size="13" fill="#5a1e55" font-weight="normal" letter-spacing="0.5">(2x1)O</text>
<text x="224.6" y="163.9" font-size="13" fill="#0a0ad2" font-weight="normal" letter-spacing="0.4">(3x1)O</text>
<text x="313.4" y="223.1" font-size="13" fill="#0a0ad2" font-weight="normal" letter-spacing="0.75">Ni(110)</text>
<text y="266.6" font-size="13.4" fill="#d00000"><tspan x="314.2">O</tspan><tspan x="326.3" y="271" font-size="10.5">2</tspan><tspan x="335.4" y="266.6" letter-spacing="0.4">Exp.</tspan><tspan x="365.2">/</tspan><tspan x="373.2">L</tspan></text>
<line x1="315" y1="268.8" x2="325" y2="268.8" stroke="#d00000" stroke-width="1"/>
<line x1="332" y1="268.8" x2="382" y2="268.8" stroke="#d00000" stroke-width="1" stroke-dasharray="3.2,1.3"/>
<text x="348.3" y="290.1" text-anchor="middle" font-size="13.5" fill="#0a0ad2" letter-spacing="1">0.0</text>
<text x="348.3" y="320.8" text-anchor="middle" font-size="13.5" fill="#0a0ad2" letter-spacing="1">0.5</text>
<text x="348.3" y="347.9" text-anchor="middle" font-size="13.5" fill="#6a2ea6" letter-spacing="1">1.0</text>
<text x="348.3" y="372.8" text-anchor="middle" font-size="13.5" fill="#8a3a0c" letter-spacing="1">3.0</text>
<text x="348.3" y="402.2" text-anchor="middle" font-size="13.5" fill="#d00000" letter-spacing="1">30</text>
<text x="348.3" y="428.1" text-anchor="middle" font-size="13.5" fill="#d00000" letter-spacing="1">300</text>
</svg></body></html>
